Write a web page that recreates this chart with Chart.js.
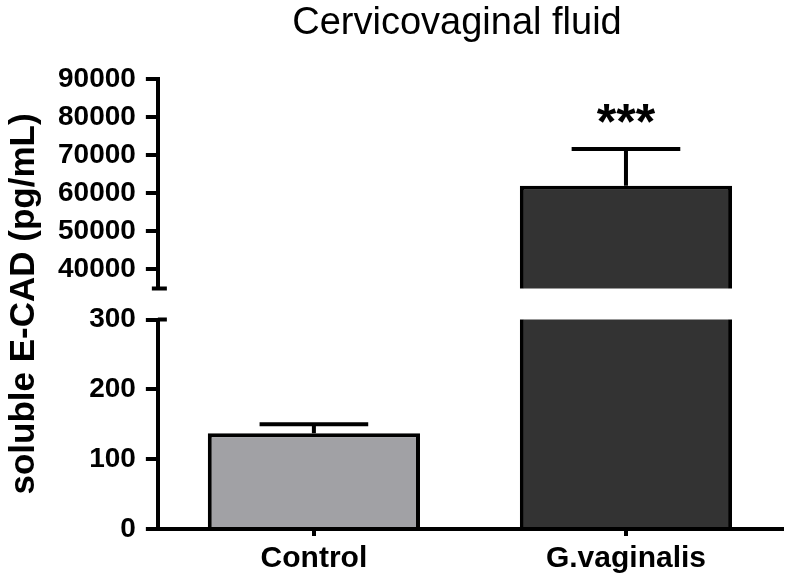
<!DOCTYPE html>
<html>
<head>
<meta charset="utf-8">
<script src="https://cdn.jsdelivr.net/npm/chart.js@4/dist/chart.umd.min.js"></script>
<style>
  html, body { margin: 0; padding: 0; background: #fff; }
  #wrap { width: 790px; height: 578px; position: relative; }
</style>
</head>
<body>
<div id="wrap"><canvas id="c" width="790" height="578"></canvas></div>
<script>
// ---- data ----
const categories = ['Control', 'G.vaginalis'];
const means = [137, 62000];
const sems = [13, 9600];
const significance = ['', '***'];
const lowerTicks = [0, 100, 200, 300];
const upperTicks = [40000, 50000, 60000, 70000, 80000, 90000];
const chartTitle = 'Cervicovaginal fluid';
const yTitle = 'soluble E-CAD (pg/mL)';

// ---- styles ----
const FONT = "'Liberation Sans', Arial, sans-serif";
const barColors = ['#a1a1a5', '#333333'];

const decorPlugin = {
  id: 'decor',
  afterDatasetsDraw(chart) {
    const ctx = chart.ctx;
    const meta = chart.getDatasetMeta(0);
    const low = chart.scales.yLow, high = chart.scales.yHigh;
    ctx.save();
    ctx.strokeStyle = '#000';
    ctx.fillStyle = '#000';
    ctx.lineWidth = 4;
    means.forEach((m, i) => {
      const bar = meta.data[i];
      const top = m + sems[i];
      const sc = top > low.max ? high : low;
      const x = bar.x;
      const yMean = sc.getPixelForValue(m);
      const yTop = sc.getPixelForValue(top);
      const half = bar.width * 0.256;
      ctx.beginPath();
      ctx.moveTo(x, yMean);
      ctx.lineTo(x, yTop);
      ctx.moveTo(x - half, yTop);
      ctx.lineTo(x + half, yTop);
      ctx.stroke();
      if (significance[i]) {
        ctx.font = 'bold 50px ' + FONT;
        ctx.textAlign = 'center';
        ctx.textBaseline = 'alphabetic';
        ctx.fillText(significance[i], x, yTop - 10);
      }
    });
    // axis break marks
    const ax = high.right;
    ctx.lineWidth = 4;
    ctx.beginPath();
    ctx.moveTo(ax - 6, high.bottom);
    ctx.lineTo(ax + 9, high.bottom);
    ctx.moveTo(ax, low.top);
    ctx.lineTo(ax + 9, low.top);
    ctx.stroke();
    ctx.restore();
  },
  afterDraw(chart) {
    const ctx = chart.ctx;
    const area = chart.chartArea;
    ctx.save();
    ctx.fillStyle = '#000';
    ctx.font = '38px ' + FONT;
    ctx.textAlign = 'center';
    ctx.textBaseline = 'middle';
    ctx.fillText(chartTitle, 457, 24);
    ctx.translate(24, (area.top + area.bottom) / 2);
    ctx.rotate(-Math.PI / 2);
    ctx.font = 'bold 35px ' + FONT;
    ctx.fillText(yTitle, 0, 0);
    ctx.restore();
  }
};

const yCommon = {
  type: 'linear',
  position: 'left',
  stack: 'yaxis',
  border: { display: true, color: '#000', width: 4 },
  grid: { drawOnChartArea: false, color: '#000', lineWidth: 4, tickLength: 12 },
  ticks: {
    color: '#000',
    padding: 10,
    autoSkip: false,
    font: { family: FONT, size: 28, weight: 'bold' },
    callback: v => String(v)
  }
};

const barDataset = (axis) => ({
  data: means,
  yAxisID: axis,
  backgroundColor: barColors,
  borderColor: '#000',
  borderWidth: 4,
  borderSkipped: 'start',
  grouped: false,
  barPercentage: 0.68,
  categoryPercentage: 1,
  clip: 0
});

new Chart(document.getElementById('c'), {
  type: 'bar',
  data: {
    labels: categories,
    datasets: [barDataset('yLow'), barDataset('yHigh')]
  },
  options: {
    responsive: false,
    animation: false,
    events: [],
    layout: { padding: { left: 48, right: 8, top: 79, bottom: -4 } },
    plugins: { legend: { display: false }, tooltip: { enabled: false }, title: { display: false } },
    scales: {
      x: {
        type: 'category',
        offset: true,
        border: { display: true, color: '#000', width: 4 },
        grid: { drawOnChartArea: false, offset: false, color: '#000', lineWidth: 4, tickLength: 7 },
        ticks: { color: '#000', padding: 8, font: { family: FONT, size: 30, weight: 'bold', lineHeight: 1.0 } }
      },
      yHigh: Object.assign({}, yCommon, {
        min: 35000, max: 90000, weight: 3, stackWeight: 209,
        afterBuildTicks: s => { s.ticks = upperTicks.map(v => ({ value: v })); }
      }),
      yGap: { type: 'linear', position: 'left', stack: 'yaxis', display: false, weight: 2, stackWeight: 31 },
      yLow: Object.assign({}, yCommon, {
        min: 0, max: 300, weight: 1, stackWeight: 209,
        afterBuildTicks: s => { s.ticks = lowerTicks.map(v => ({ value: v })); }
      })
    }
  },
  plugins: [decorPlugin]
});
</script>
</body>
</html>
